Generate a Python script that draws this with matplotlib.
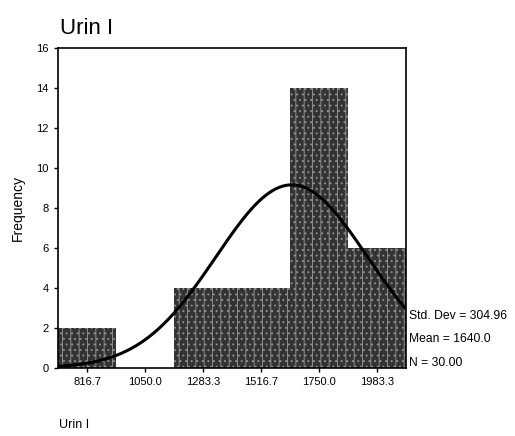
import numpy as np
import matplotlib.pyplot as plt

# histogram bins (SPSS style) and counts
bin_edges = [700.0, 933.3, 1166.7, 1400.0, 1633.3, 1866.7, 2100.0]
counts = [2, 0, 4, 4, 14, 6]
tick_vals = [816.7, 1050.0, 1283.3, 1516.7, 1750.0, 1983.3]
tick_labels = ["816.7", "1050.0", "1283.3", "1516.7", "1750.0", "1983.3"]
y_ticks = [0, 2, 4, 6, 8, 10, 12, 14, 16]

std_dev = 304.96
mean = 1640.0
n = 30

plt.rcParams["font.family"] = ["Liberation Sans", "DejaVu Sans"]
plt.rcParams["hatch.color"] = "#8c8c8c"
plt.rcParams["hatch.linewidth"] = 0.7

fig = plt.figure(figsize=(5.15, 4.36), dpi=100)
ax = fig.add_axes([0.1126, 0.156, 0.676, 0.734])

widths = np.diff(bin_edges)
ax.bar(bin_edges[:-1], counts, width=widths, align="edge",
       facecolor="#333333", edgecolor="#8c8c8c", linewidth=0,
       hatch="||...", zorder=2)

# normal curve scaled to the histogram
x = np.linspace(700, 2100, 300)
bw = widths[0]
y = n * bw / (std_dev * np.sqrt(2 * np.pi)) * np.exp(-0.5 * ((x - mean) / std_dev) ** 2)
ax.plot(x, y, color="black", linewidth=2.2, zorder=3)

ax.set_xlim(700, 2100)
ax.set_ylim(0, 16)
ax.set_xticks(tick_vals)
ax.set_xticklabels(tick_labels, fontsize=8)
ax.set_yticks(y_ticks)
ax.set_yticklabels([str(v) for v in y_ticks], fontsize=8)
ax.tick_params(direction="out", length=3, width=1)
for s in ax.spines.values():
    s.set_linewidth(1.2)
    s.set_zorder(4)

ax.set_ylabel("Frequency", fontsize=10, labelpad=8)

fig.text(0.117, 0.935, "Urin I", fontsize=16, ha="left", va="center")
fig.text(0.115, 0.025, "Urin I", fontsize=9, ha="left", va="center")

fig.text(0.795, 0.275, "Std. Dev = %.2f" % std_dev, fontsize=8.7, ha="left", va="center")
fig.text(0.795, 0.222, "Mean = %.1f" % mean, fontsize=8.7, ha="left", va="center")
fig.text(0.795, 0.168, "N = %.2f" % n, fontsize=8.7, ha="left", va="center")

fig.savefig("out.png", dpi=100)
